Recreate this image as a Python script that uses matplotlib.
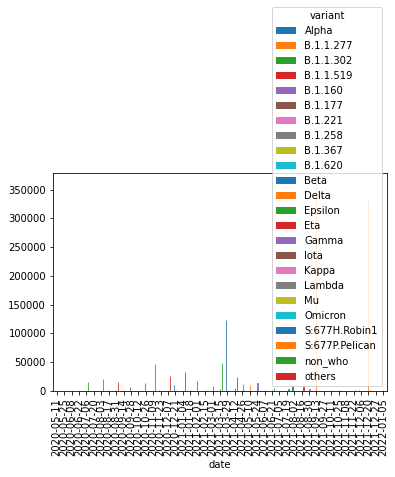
import matplotlib
matplotlib.use('Agg')
import matplotlib.pyplot as plt
import pandas as pd

# categories
dates = ['2020-05-11', '2020-05-25', '2020-06-08', '2020-06-22', '2020-07-06',
         '2020-07-20', '2020-08-03', '2020-08-17', '2020-08-31', '2020-09-14',
         '2020-09-28', '2020-10-12', '2020-10-26', '2020-11-09', '2020-11-23',
         '2020-12-07', '2020-12-21', '2021-01-04', '2021-01-18', '2021-02-01',
         '2021-02-15', '2021-03-01', '2021-03-15', '2021-03-29', '2021-04-12',
         '2021-04-26', '2021-05-10', '2021-05-24', '2021-06-07', '2021-06-21',
         '2021-07-05', '2021-07-19', '2021-08-02', '2021-08-16', '2021-08-30',
         '2021-09-13', '2021-09-27', '2021-10-11', '2021-10-25', '2021-11-08',
         '2021-11-22', '2021-12-06', '2021-12-20', '2021-12-27', '2022-01-05']

variants = ['Alpha', 'B.1.1.277', 'B.1.1.302', 'B.1.1.519', 'B.1.160', 'B.1.177',
            'B.1.221', 'B.1.258', 'B.1.367', 'B.1.620', 'Beta', 'Delta', 'Epsilon',
            'Eta', 'Gamma', 'Iota', 'Kappa', 'Lambda', 'Mu', 'Omicron',
            'S:677H.Robin1', 'S:677P.Pelican', 'non_who', 'others']

# non-zero bars (everything else is 0)
bar_dates = ['2020-07-06', '2020-08-03', '2020-08-17', '2020-08-31', '2020-08-31',
             '2020-09-14', '2020-09-28', '2020-10-26', '2020-11-09', '2020-11-23',
             '2020-12-07', '2020-12-21', '2020-12-21', '2021-01-04', '2021-01-18',
             '2021-02-01', '2021-02-15', '2021-03-01', '2021-03-15', '2021-03-15',
             '2021-03-29', '2021-03-29', '2021-04-12', '2021-04-12', '2021-04-26',
             '2021-04-26', '2021-05-10', '2021-05-24', '2021-06-07', '2021-06-21',
             '2021-06-21', '2021-07-19', '2021-08-02', '2021-08-16', '2021-08-16',
             '2021-08-30', '2021-09-13', '2021-10-11', '2021-10-25', '2021-11-22',
             '2021-12-06', '2021-12-20', '2021-12-20', '2022-01-05']
bar_variants = ['non_who', 'non_who', 'B.1.258', 'B.1.160', 'others',
                'B.1.1.277', 'B.1.177', 'B.1.177', 'non_who', 'Alpha',
                'others', 'Alpha', 'S:677H.Robin1', 'others', 'Kappa',
                'B.1.177', 'S:677P.Pelican', 'Epsilon', 'Eta', 'non_who',
                'Alpha', 'Kappa', 'Beta', 'others', 'Gamma',
                'S:677H.Robin1', 'Delta', 'Gamma', 'Epsilon', 'Beta',
                'non_who', 'non_who', 'Alpha', 'S:677H.Robin1', 'others',
                'Gamma', 'Delta', 'Mu', 'non_who', 'others',
                'Alpha', 'Delta', 'others', 'Delta']
bar_counts = [16200, 20900, 1500, 1500, 16200,
              1500, 7000, 13900, 47000, 1500,
              26100, 10400, 1500, 33600, 1500,
              17400, 1500, 8700, 3500, 49300,
              123500, 1500, 5000, 24400, 12200,
              1500, 10400, 13900, 1700, 1500,
              4600, 3500, 9500, 1500, 7600,
              3000, 361000, 1500, 1500, 1500,
              1500, 330000, 1500, 2000]

df = pd.DataFrame({'date': bar_dates, 'variant': bar_variants,
                   'num_sequences': bar_counts})
table = df.pivot_table(index='date', columns='variant',
                       values='num_sequences', aggfunc='sum')
table = table.reindex(index=dates, columns=variants).fillna(0)
table.index.name = 'date'

fig = plt.figure(figsize=(395 / 72, 477 / 72), dpi=72)
ax = fig.add_axes([53 / 395, 86 / 477, 334 / 395, 218 / 477])
table.plot(kind='bar', ax=ax)

# bars are far thinner than a pixel: give the non-empty ones a 1px stroke
for container in ax.containers:
    for patch in container.patches:
        if patch.get_height() > 0:
            patch.set_edgecolor(patch.get_facecolor())
            patch.set_linewidth(0.8)

ax.legend(title='variant', loc='lower right')

fig.savefig('out.png', dpi=72)
